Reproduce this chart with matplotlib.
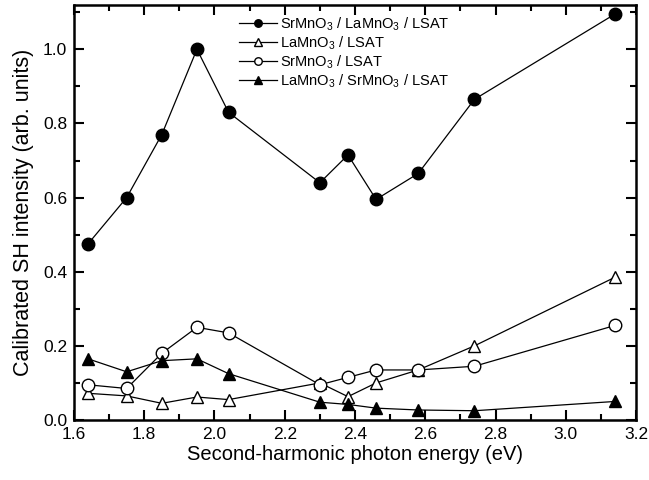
import numpy as np
import matplotlib
matplotlib.use("Agg")
import matplotlib.pyplot as plt
from matplotlib.ticker import MultipleLocator, FormatStrFormatter

plt.rcParams['font.family'] = ['Liberation Sans', 'DejaVu Sans']
plt.rcParams['mathtext.fontset'] = 'custom'
plt.rcParams['mathtext.rm'] = 'Liberation Sans'

energy = [1.64, 1.75, 1.85, 1.95, 2.04, 2.30, 2.38, 2.46, 2.58, 2.74, 3.14]
smo_lmo_lsat = [0.475, 0.60, 0.77, 1.00, 0.83, 0.64, 0.715, 0.595, 0.665, 0.865, 1.095]
lmo_lsat = [0.072, 0.065, 0.045, 0.062, 0.055, 0.10, 0.063, 0.10, 0.135, 0.20, 0.385]
smo_lsat = [0.095, 0.085, 0.18, 0.25, 0.235, 0.095, 0.115, 0.135, 0.135, 0.145, 0.255]
lmo_smo_lsat = [0.165, 0.13, 0.16, 0.165, 0.125, 0.048, 0.042, 0.032, 0.027, 0.025, 0.05]

labels = [r"SrMnO$_3$ / LaMnO$_3$ / LSAT",
          r"LaMnO$_3$ / LSAT",
          r"SrMnO$_3$ / LSAT",
          r"LaMnO$_3$ / SrMnO$_3$ / LSAT"]

fig = plt.figure(figsize=(6.49, 4.8), dpi=100)
ax = fig.add_axes([0.114, 0.125, 0.866, 0.865])

ms = 9
ax.plot(energy, smo_lmo_lsat, "k-", marker="o", mfc="k", ms=ms, lw=0.9, label=labels[0])
ax.plot(energy, lmo_lsat, "k-", marker="^", mfc="w", ms=ms, lw=0.9, label=labels[1])
ax.plot(energy, smo_lsat, "k-", marker="o", mfc="w", ms=ms, lw=0.9, label=labels[2])
ax.plot(energy, lmo_smo_lsat, "k-", marker="^", mfc="k", ms=ms, lw=0.9, label=labels[3])

ax.set_xlim(1.6, 3.2)
ax.set_ylim(0, 1.12)
ax.xaxis.set_major_locator(MultipleLocator(0.2))
ax.xaxis.set_minor_locator(MultipleLocator(0.1))
ax.yaxis.set_major_locator(MultipleLocator(0.2))
ax.yaxis.set_minor_locator(MultipleLocator(0.1))
ax.xaxis.set_major_formatter(FormatStrFormatter("%.1f"))
ax.yaxis.set_major_formatter(FormatStrFormatter("%.1f"))
ax.tick_params(which="both", direction="in", top=True, right=True, labelsize=12.5, width=1.5)
ax.tick_params(which="major", length=7, pad=5)
ax.tick_params(which="minor", length=4)
for s in ax.spines.values():
    s.set_linewidth(1.8)

ax.set_xlabel("Second-harmonic photon energy (eV)", fontsize=14.5, labelpad=2)
ax.set_ylabel("Calibrated SH intensity (arb. units)", fontsize=15.5, labelpad=6)

ax.legend(loc="upper left", bbox_to_anchor=(0.275, 1.0), frameon=False, fontsize=10.5,
          markerscale=0.6, handlelength=2.6, labelspacing=0.1, borderaxespad=0.3,
          handletextpad=0.2)

plt.savefig("out.png", dpi=100)
